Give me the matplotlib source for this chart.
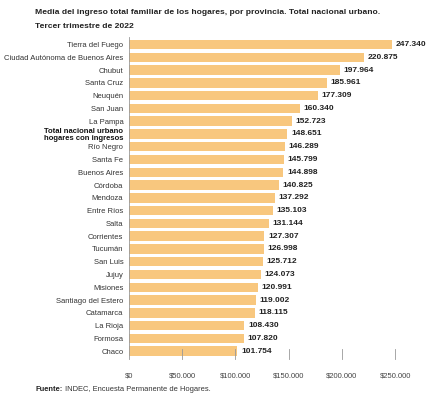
import matplotlib
matplotlib.use("Agg")
import matplotlib.pyplot as plt
from matplotlib.ticker import FuncFormatter

categories = ["Tierra del Fuego","Ciudad Autónoma de Buenos Aires","Chubut","Santa Cruz","Neuquén",
 "San Juan","La Pampa","Total nacional urbano\nhogares con ingresos","Río Negro","Santa Fe",
 "Buenos Aires","Córdoba","Mendoza","Entre Ríos","Salta","Corrientes","Tucumán","San Luis",
 "Jujuy","Misiones","Santiago del Estero","Catamarca","La Rioja","Formosa","Chaco"]
values = [247340,220875,197964,185961,177309,160340,152723,148651,146289,145799,144898,140825,
 137292,135103,131144,127307,126998,125712,124073,120991,119002,118115,108430,107820,101754]
ticks = [0,50000,100000,150000,200000,250000]

plt.rcParams['font.family'] = ['Liberation Sans','DejaVu Sans']
fig = plt.figure(figsize=(4.4,4.05), dpi=100)
ax = fig.add_axes([0.293,0.114,0.605,0.795])
y = list(range(len(categories)))
ax.barh(y, values, height=0.74, color="#F8C77E")
ax.set_ylim(len(categories)-0.4, -0.6)
ax.set_xlim(0,250000)
def fmt(v):
    return f"{v:,.0f}".replace(",",".")
for yi,v in zip(y,values):
    ax.text(v+3500, yi, fmt(v), va="center", ha="left", fontsize=6.0, fontweight="bold", color="#222222")
ax.set_yticks(y)
ax.set_yticklabels(categories, fontsize=5.5, color="#333333")
for lbl in ax.get_yticklabels():
    if lbl.get_text().startswith("Total"):
        lbl.set_fontweight("bold"); lbl.set_color("#111111"); lbl.set_linespacing(1.0)
ax.tick_params(axis="y", length=0, pad=4)
ax.set_xticks(ticks)
ax.xaxis.set_major_formatter(FuncFormatter(lambda v,p: "$"+fmt(v)))
ax.tick_params(axis="x", length=0, labelsize=5.5, labelcolor="#444444", pad=10)
for s in ["top","right","bottom"]:
    ax.spines[s].set_visible(False)
ax.spines["left"].set_color("#999999"); ax.spines["left"].set_linewidth(0.6)
for t in ticks[1:]:
    ax.axvline(t, ymin=0, ymax=0.03, color="#999999", lw=0.6, clip_on=False)
fig.text(0.08,0.978,"Media del ingreso total familiar de los hogares, por provincia. Total nacional urbano.",
         fontsize=6.1, fontweight="bold", color="#222222", va="top")
fig.text(0.08,0.942,"Tercer trimestre de 2022", fontsize=6.1, fontweight="bold", color="#222222", va="top")
fig.text(0.08,0.035,"Fuente:", fontsize=5.4, fontweight="bold", color="#222222")
fig.text(0.148,0.035,"INDEC, Encuesta Permanente de Hogares.", fontsize=5.4, color="#333333")
fig.savefig("out.png", dpi=100, facecolor="white")
